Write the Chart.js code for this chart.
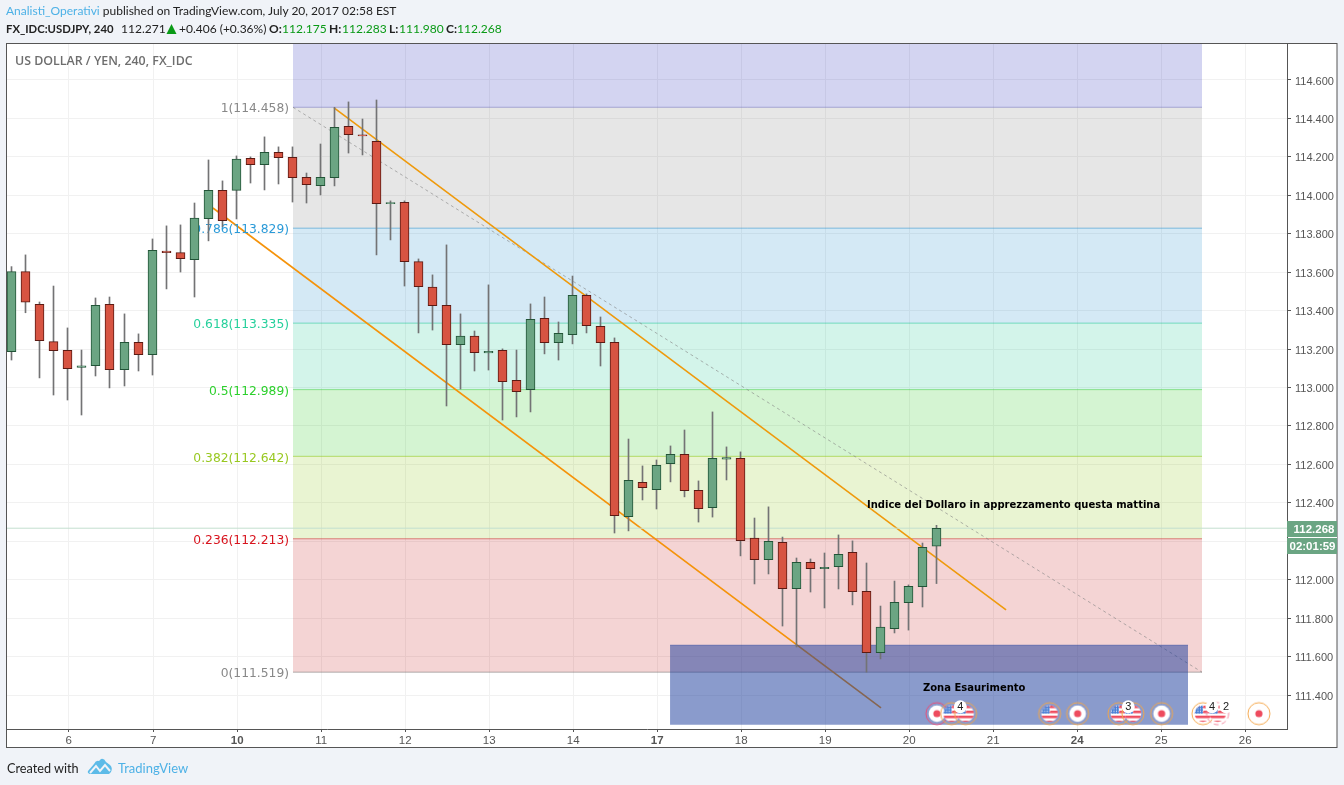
<!DOCTYPE html>
<html><head><meta charset="utf-8">
<script src="https://cdn.jsdelivr.net/npm/chart.js@4"></script>
<style>
html,body{margin:0;padding:0;background:#f0f3f8;width:1344px;height:785px;overflow:hidden}
canvas{position:absolute;left:0;top:0}
.t{position:absolute;white-space:nowrap;font-family:"Lato",sans-serif;font-size:12px;color:#222;line-height:16px}
.b{font-weight:700}.g{color:#0a9a16}
</style></head><body>
<canvas id="c" width="1344" height="785"></canvas>
<span class="t" style="left:6px;top:3px"><span style="color:#4db1e6">Analisti_Operativi</span> published on TradingView.com, July 20, 2017 02:58 EST</span>
<span class="t b" style="left:6px;top:21px;font-size:11.3px">FX_IDC:USDJPY, 240</span>
<span class="t" style="left:121px;top:21px">112.271</span>
<svg style="position:absolute;left:166px;top:24px" width="11" height="11"><path d="M5.5 0L10.5 10H.5Z" fill="#0a9a16"/></svg>
<span class="t" style="left:179px;top:21px">+0.406 (+0.36%)</span>
<span class="t b" style="left:269px;top:21px">O:</span><span class="t g" style="left:282px;top:21px">112.175</span>
<span class="t b" style="left:329px;top:21px">H:</span><span class="t g" style="left:342px;top:21px">112.283</span>
<span class="t b" style="left:389px;top:21px">L:</span><span class="t g" style="left:399px;top:21px">111.980</span>
<span class="t b" style="left:446px;top:21px">C:</span><span class="t g" style="left:457px;top:21px">112.268</span>
<span class="t" style="left:7px;top:760px;font-size:12.7px">Created with</span>
<svg style="position:absolute;left:87px;top:758px" width="26" height="17" viewBox="0 0 26 17"><path d="M1 13 L7 6 Q9 2 12 3 L14 1 Q17 0 19 4 L23 7 Q26 10 24 14 L22 16 H3 Q0 15 1 13Z" fill="#5dbbe8"/><path d="M3 15 L9 8 L13 13 L18 7 L23 13" stroke="#f0f3f8" stroke-width="2" fill="none"/></svg>
<span class="t" style="left:118px;top:760px;font-size:13px;color:#4db1e6">TradingView</span>
<script>
const dayLabels=['6','7','10','11','12','13','14','17','18','19','20','21','24','25','26'];
const weekStarts=['10','17','24'];
const dayTicks=[4.08,10.12,16.12,22.12,28.12,34.12,40.12,46.12,52.12,58.12,64.12,70.12,76.12,82.12,88.12];
const priceTicks=[111.4,111.6,111.8,112,112.2,112.4,112.6,112.8,113,113.2,113.4,113.6,113.8,114,114.2,114.4,114.6];
const opens=[113.187,113.603,113.433,113.239,113.194,113.105,113.114,113.433,113.093,113.235,113.171,113.710,113.702,113.665,113.879,114.026,114.026,114.193,114.160,114.224,114.198,114.094,114.050,114.092,114.359,114.315,114.281,113.956,113.964,113.655,113.522,113.428,113.223,113.267,113.180,113.194,113.038,112.989,113.360,113.233,113.275,113.480,113.319,113.235,112.328,112.507,112.468,112.604,112.653,112.465,112.375,112.627,112.632,112.216,112.104,112.195,111.953,112.091,112.057,112.068,112.143,111.940,111.620,111.745,111.881,111.964,112.175];
const highs=[113.629,113.690,113.445,113.528,113.310,113.195,113.466,113.471,113.383,113.279,113.773,113.841,113.846,113.960,114.184,114.075,114.205,114.200,114.304,114.252,114.252,114.116,114.267,114.458,114.486,114.397,114.496,113.971,113.971,113.669,113.586,113.742,113.383,113.294,113.534,113.201,113.195,113.435,113.471,113.341,113.580,113.487,113.367,113.258,112.732,112.592,112.623,112.696,112.779,112.514,112.873,112.691,112.665,112.321,112.379,112.222,112.113,112.108,112.139,112.233,112.202,112.087,111.863,111.993,111.973,112.191,112.283];
const lows=[113.143,113.389,113.050,112.961,112.935,112.857,113.060,112.998,113.008,113.086,113.065,113.513,113.601,113.471,113.763,113.837,113.877,114.064,114.028,114.059,113.965,113.960,114.002,114.049,114.220,114.210,113.690,113.768,113.528,113.284,113.299,112.904,112.992,113.086,113.091,112.831,112.847,112.873,113.175,113.143,113.227,113.284,113.112,112.243,112.254,112.415,112.368,112.509,112.431,112.300,112.326,112.519,112.124,111.978,112.030,111.759,111.650,111.936,111.853,111.952,111.869,111.519,111.588,111.723,111.738,111.858,111.980];
const closes=[113.603,113.444,113.244,113.192,113.098,113.113,113.428,113.093,113.235,113.171,113.714,113.702,113.670,113.881,114.026,113.868,114.188,114.160,114.224,114.196,114.092,114.055,114.094,114.354,114.316,114.309,113.957,113.962,113.655,113.525,113.426,113.223,113.267,113.181,113.188,113.030,112.978,113.355,113.233,113.282,113.480,113.322,113.233,112.333,112.517,112.479,112.595,112.653,112.463,112.370,112.632,112.635,112.203,112.104,112.200,111.953,112.091,112.057,112.065,112.132,111.938,111.620,111.753,111.883,111.966,112.169,112.268];
const sessionGap=1/14;
const barX=opens.map((_,i)=>i<8?i:i+sessionGap);
const fibRange=[20.107,85.036];
const fibLevels=[114.458,113.829,113.335,112.989,112.642,112.213,111.519];
const fibNames=['1(114.458)','0.786(113.829)','0.618(113.335)','0.5(112.989)','0.382(112.642)','0.236(112.213)','0(111.519)'];
const fibFill=['rgba(128,128,128,.2)','rgba(40,145,205,.2)','rgba(35,200,150,.2)','rgba(40,200,30,.2)','rgba(145,200,30,.2)','rgba(200,40,40,.2)'];
const fibLine=['rgba(40,145,205,.55)','rgba(35,200,150,.55)','rgba(40,200,30,.45)','rgba(145,200,30,.6)','rgba(200,40,40,.55)','rgba(128,128,128,.6)'];
const fibText=['#888888','#2a9ad8','#26d09c','#2cd02c','#98c820','#d8141e','#888888'];
const upperChannel=[{x:23.04,y:114.455},{x:71.04,y:111.843}];
const lowerChannel=[{x:14.39,y:113.934},{x:62.11,y:111.333}];
const fibTrend=[{x:20.107,y:114.458},{x:85.036,y:111.519}];
const zoneX=[47.04,84.04];const zoneY=[111.245,111.66];
const lastPrice=112.268;
const eventX=[66.1,67.15,68.15,74.15,76.15,79.1,80.1,82.15,85.1,86.15,89.1];
const eventKind=['jp','us','us','us','jp','us','us','jp','us','us','jp'];
const eventRing=['#e8507a','#f0a64c','#f0a64c','#f0a64c','#f0a64c','#f0a64c','#f0a64c','#f0a64c','#f5a94f','#f28aa0','#f5a94f'];
const eventLevel=111.303;
const badgeX=[67.77,79.77,85.75,86.75];const badgeText=['4','3','4','2'];const badgeLevel=111.339;

const FS='"DejaVu Sans",sans-serif';
function icon(kind,ring,dashed){
  const c=document.createElement('canvas');c.width=c.height=26;const g=c.getContext('2d');
  g.strokeStyle=ring;g.lineWidth=1;if(dashed)g.setLineDash([5,3]);g.beginPath();g.arc(13,13,11,0,7);g.stroke();g.setLineDash([]);
  g.save();g.beginPath();g.arc(13,13,8.3,0,7);g.clip();
  g.fillStyle='#fff';g.fillRect(0,0,26,26);
  if(kind==='jp'){g.fillStyle='#ee4b5e';g.beginPath();g.arc(13,13,3.6,0,7);g.fill();}
  else{g.fillStyle='#ee4b5e';for(let y=5;y<22;y+=5){g.fillRect(0,y,26,2.5);}
    g.fillStyle='#4a7fd6';g.fillRect(4,4,9,9);g.fillStyle='#fff';for(let a=5;a<13;a+=2.5)for(let b=5;b<13;b+=2.5)g.fillRect(a,b,1,1);}
  g.restore();return c;
}
const icons=eventKind.map((k,i)=>icon(k,eventRing[i],i===9));

const datasets=[];
datasets.push({type:'line',data:fibRange.map(x=>({x,y:fibLevels[0]})),borderColor:'rgba(90,90,190,.45)',borderWidth:1,pointRadius:0,fill:'end',backgroundColor:'rgba(35,40,185,.2)',order:120});
fibFill.forEach((col,i)=>datasets.push({type:'line',data:fibRange.map(x=>({x,y:fibLevels[i+1]})),borderColor:fibLine[i],borderWidth:1,pointRadius:0,backgroundColor:col,fill:{value:fibLevels[i]},order:110-i}));
datasets.push({type:'line',data:fibTrend,borderColor:'rgba(130,130,130,.6)',borderWidth:1,borderDash:[3,3],pointRadius:0,fill:false,order:60});
datasets.push({type:'line',data:upperChannel,borderColor:'#ef9a0c',borderWidth:1.6,pointRadius:0,fill:false,order:55});
datasets.push({type:'line',data:lowerChannel,borderColor:'#f5930a',borderWidth:1.6,pointRadius:0,fill:false,order:55});
datasets.push({type:'line',data:[{x:-1,y:lastPrice},{x:92,y:lastPrice}],borderColor:'#c3dfcf',borderWidth:1,pointRadius:0,fill:false,order:50});
datasets.push({type:'line',data:zoneX.map(x=>({x,y:zoneY[1]})),borderColor:'rgba(21,56,153,.3)',borderWidth:1,pointRadius:0,backgroundColor:'rgba(21,56,153,.5)',fill:{value:zoneY[0]},order:40});
datasets.push({type:'bar',label:'wicks',data:barX.map((x,i)=>({x,y:[lows[i],highs[i]]})),backgroundColor:'#737375',borderWidth:0,barThickness:1,grouped:false,order:20});
datasets.push({type:'bar',label:'bodies',data:barX.map((x,i)=>({x,y:[opens[i],closes[i]]})),
  backgroundColor:opens.map((o,i)=>closes[i]>=o?'#6ba583':'#d75442'),
  borderColor:opens.map((o,i)=>closes[i]>=o?'#225437':'#5b1a13'),
  borderWidth:1,borderSkipped:false,barThickness:9,grouped:false,order:10});
datasets.push({type:'line',label:'events',data:eventX.map(x=>({x,y:eventLevel})),showLine:false,pointStyle:icons,pointRadius:5,order:2});
datasets.push({type:'line',label:'badges',data:badgeX.map(x=>({x,y:badgeLevel})),showLine:false,pointStyle:'circle',pointRadius:6.5,pointBackgroundColor:'#fff',pointBorderWidth:0,order:1});

const overlay={id:'overlay',
 beforeDraw(ch){const g=ch.ctx;g.save();g.fillStyle='#fff';g.fillRect(6.5,43.5,1330.5,704);g.strokeStyle='#555';g.lineWidth=1;g.strokeRect(6.5,43.5,1330.5,704);g.restore();},
 beforeDatasetDraw(ch,a){
  if(ch.data.datasets[a.index].label!=='wicks')return;
  const g=ch.ctx,y=ch.scales.y;g.save();g.font='12.3px '+FS;g.textAlign='right';g.textBaseline='middle';
  fibNames.forEach((t,i)=>{g.fillStyle=fibText[i];g.fillText(t,289,y.getPixelForValue(fibLevels[i])+2);});g.restore();},
 afterDatasetsDraw(ch){
  const g=ch.ctx,X=ch.scales.x,Y=ch.scales.y;g.save();
  g.font='600 12.4px "Open Sans",sans-serif';g.fillStyle='#6e6e6e';g.textBaseline='middle';g.textAlign='left';g.fillText('US DOLLAR / YEN, 240, FX_IDC',15,61);
  g.font='bold 10px '+FS;g.fillStyle='#000';
  g.fillText('Indice del Dollaro in apprezzamento questa mattina',867,505);
  g.fillText('Zona Esaurimento',923,688.5);
  g.font='11px "Liberation Sans",sans-serif';g.fillStyle='#222';g.textAlign='center';
  badgeX.forEach((x,i)=>g.fillText(badgeText[i],X.getPixelForValue(x),Y.getPixelForValue(badgeLevel)+.5));
  g.restore();},
 afterDraw(ch){
  const g=ch.ctx;g.save();g.fillStyle='#fff';g.fillRect(1288,537,49,1);g.fillStyle='#6ba583';g.fillRect(1287,521,50,16);g.fillRect(1287,538,50,16);
  g.fillStyle='#fff';g.font='bold 11.5px "Liberation Sans",sans-serif';g.textAlign='center';g.textBaseline='middle';
  g.fillText('112.268',1314,529.5);g.fillText('02:01:59',1312.5,546.5);g.restore();}
};

new Chart(document.getElementById('c'),{
 type:'bar',data:{datasets},plugins:[overlay],
 options:{responsive:false,animation:false,devicePixelRatio:1,events:[],
  layout:{padding:{left:7,top:44,right:7,bottom:37}},
  plugins:{legend:{display:false},tooltip:{enabled:false},title:{display:false}},
  scales:{
   x:{type:'linear',offset:false,min:-4.5/14,max:1275.5/14,
     grid:{offset:false,color:'#f1f1f1',tickColor:'#555',tickLength:3},border:{color:'#555'},
     afterBuildTicks(s){s.ticks=dayTicks.map(value=>({value}));},
     afterFit(s){s.height=19;},
     ticks:{autoSkip:false,maxRotation:0,padding:2,color:'#555',
       font:c=>({family:'"Liberation Sans",sans-serif',size:11.5,weight:weightFor(c)}),
       callback:v=>dayLabels[dayTicks.indexOf(v)]}},
   y:{type:'linear',position:'right',min:111.2233,max:114.7873,
     grid:{color:'#f1f1f1',tickColor:'#555',tickLength:4},border:{color:'#555'},
     afterBuildTicks(s){s.ticks=priceTicks.map(value=>({value}));},
     afterFit(s){s.width=50;},
     ticks:{autoSkip:false,padding:4,labelOffset:1.5,color:'#555',font:{family:'"Liberation Sans",sans-serif',size:11},callback:v=>v.toFixed(3)}}
  }}
});
function weightFor(c){const l=c.tick?dayLabels[dayTicks.indexOf(c.tick.value)]:'';return weekStarts.includes(l)?'bold':'normal';}
</script>
</body></html>
